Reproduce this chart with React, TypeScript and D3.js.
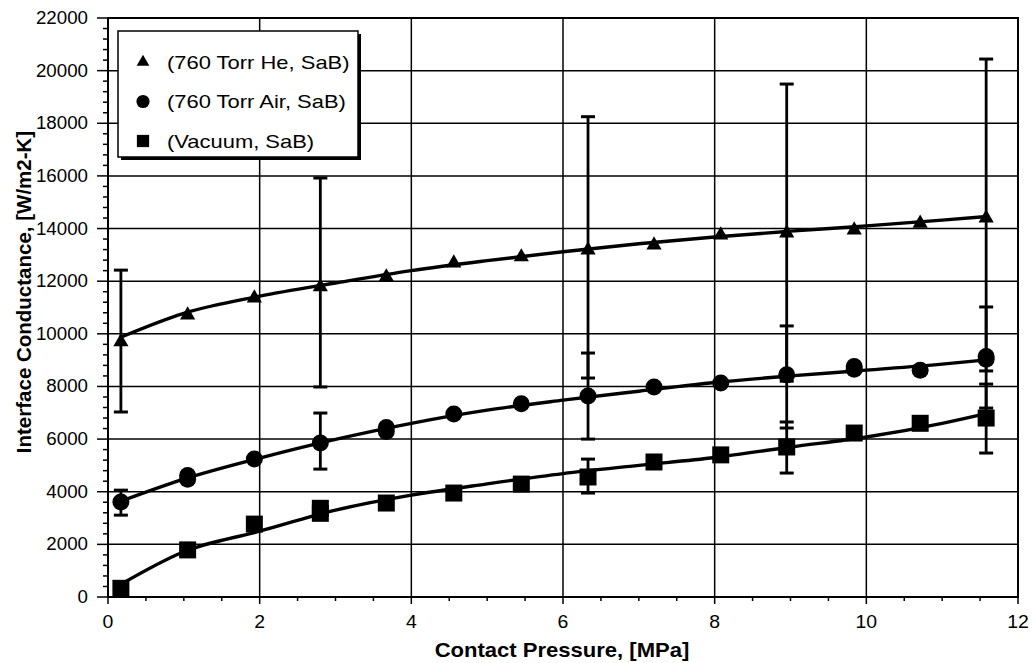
import React from "react";
import * as d3 from "d3";

// Measured points (contact pressure in MPa, conductance in W/m2-K)
const pressure = [0.17, 1.05, 1.93, 2.8, 3.67, 4.56, 5.45, 6.33, 7.2, 8.08, 8.95, 9.84, 10.71, 11.58];
const heliumK = [9690, 10710, 11360, 11780, 12160, 12690, 12920, 13180, 13370, 13750, 13830, 13940, 14200, 14400];
const airK = [3610, 4470, 5240, 5850, 6290, 6950, 7340, 7640, 7980, 8130, 8440, 8650, 8620, 9030];
const vacuumK = [330, 1790, 2770, 3180, 3570, 3950, 4290, 4560, 5130, 5400, 5700, 6230, 6600, 6800];

// Repeated measurements at the same load
const airRepeatP = [1.05, 3.67, 9.84, 11.58];
const airRepeatK = [4620, 6440, 8760, 9140];
const vacuumRepeatP = [2.8];
const vacuumRepeatK = [3370];

// Error bar ranges
const heliumErrP = [0.17, 2.8, 6.33, 8.95, 11.58];
const heliumErrLow = [7030, 7980, 8320, 8200, 8590];
const heliumErrHigh = [12420, 15920, 18250, 19490, 20440];
const airErrP = [0.17, 2.8, 6.33, 8.95, 11.58];
const airErrLow = [3110, 4860, 6000, 6420, 7180];
const airErrHigh = [4060, 6990, 9270, 10300, 11020];
const vacuumErrP = [6.33, 8.95, 11.58];
const vacuumErrLow = [3950, 4710, 5470];
const vacuumErrHigh = [5240, 6650, 8090];

// Trend curves
const fitP = [0.15, 1, 2, 3, 4, 5, 6, 7, 8, 9, 10, 11, 11.55];
const heliumFit = [9850, 10780, 11430, 11930, 12400, 12780, 13120, 13420, 13680, 13900, 14100, 14320, 14450];
const airFit = [3620, 4480, 5280, 5990, 6600, 7100, 7480, 7820, 8150, 8400, 8620, 8850, 9000];
const vacuumFit = [450, 1720, 2500, 3300, 3870, 4300, 4690, 5000, 5300, 5700, 6080, 6600, 6950];

const xTicks = [0, 2, 4, 6, 8, 10, 12];
const yTicks = [0, 2000, 4000, 6000, 8000, 10000, 12000, 14000, 16000, 18000, 20000, 22000];
const legendLabels = ["(760 Torr He, SaB)", "(760 Torr Air, SaB)", "(Vacuum, SaB)"];
const xTitle = "Contact Pressure, [MPa]";
const yTitle = "Interface Conductance, [W/m2-K]";

const FONT = "'Liberation Sans', Arial, sans-serif";

const x = d3.scaleLinear().domain([0, 12]).range([108, 1018]);
const y = d3.scaleLinear().domain([0, 22000]).range([597, 18]);

const triangle = d3.symbol(d3.symbolTriangle, 100)()!;
const circle = d3.symbol(d3.symbolCircle, 227)()!;
const square = d3.symbol(d3.symbolSquare, 289)()!;
const triangleSmall = d3.symbol(d3.symbolTriangle, 70)()!;
const circleSmall = d3.symbol(d3.symbolCircle, 135)()!;
const squareSmall = d3.symbol(d3.symbolSquare, 150)()!;

function Stretch(props: {
  x: number; y: number; sx: number; size: number; anchor?: string; weight?: string; children: string;
}) {
  const { x: px, y: py, sx, size, anchor, weight, children } = props;
  return (
    <text
      transform={`translate(${px},${py}) scale(${sx},1)`}
      fontFamily={FONT}
      fontSize={size}
      fontWeight={weight || "normal"}
      textAnchor={anchor || "start"}
      fill="#000"
    >
      {children}
    </text>
  );
}

function ErrorBars(props: { p: number[]; lo: number[]; hi: number[] }) {
  const { p, lo, hi } = props;
  return (
    <g stroke="#000">
      {p.map((v, i) => (
        <g key={i}>
          <line x1={x(v)} x2={x(v)} y1={y(lo[i])} y2={y(hi[i])} strokeWidth={2.8} />
          <line x1={x(v) - 7} x2={x(v) + 7} y1={y(lo[i])} y2={y(lo[i])} strokeWidth={3} />
          <line x1={x(v) - 7} x2={x(v) + 7} y1={y(hi[i])} y2={y(hi[i])} strokeWidth={3} />
        </g>
      ))}
    </g>
  );
}

export default function App() {
  const fitLine = d3
    .line<number>()
    .x((_, i) => x(fitP[i]))
    .y((d) => y(d))
    .curve(d3.curveMonotoneX);

  const minorY = d3.range(0, 22001, 400);
  const minorX = d3.range(0, 12.01, 0.5);

  const marks = (p: number[], k: number[], path: string, key: string) =>
    p.map((v, i) => (
      <path key={key + i} d={path} transform={`translate(${x(v)},${y(k[i])})`} fill="#000" />
    ));

  return (
    <svg width={1032} height={663} style={{ display: "block", position: "absolute", left: 0, top: 0 }}>
      <rect width={1032} height={663} fill="#fff" />

      {/* grid */}
      <g stroke="#000" strokeWidth={1.5}>
        {yTicks.slice(1, -1).map((t) => (
          <line key={"gy" + t} x1={x(0)} x2={x(12)} y1={y(t)} y2={y(t)} />
        ))}
        {xTicks.slice(1, -1).map((t) => (
          <line key={"gx" + t} x1={x(t)} x2={x(t)} y1={y(0)} y2={y(22000)} />
        ))}
      </g>
      <rect x={x(0)} y={y(22000)} width={x(12) - x(0)} height={y(0) - y(22000)} fill="none" stroke="#000" strokeWidth={2} />

      {/* axis ticks */}
      <g stroke="#000" strokeWidth={1.5}>
        {minorY.map((t) => (
          <line key={"my" + t} x1={x(0) - (t % 2000 === 0 ? 11 : 5)} x2={x(0)} y1={y(t)} y2={y(t)} />
        ))}
        {minorX.map((t) => (
          <line key={"mx" + t} x1={x(t)} x2={x(t)} y1={y(0)} y2={y(0) + (t % 2 === 0 ? 7 : 4)} />
        ))}
      </g>

      {/* tick labels */}
      {yTicks.map((t) => (
        <Stretch key={"ly" + t} x={88} y={y(t) + 6} sx={1.04} size={18} anchor="end">
          {String(t)}
        </Stretch>
      ))}
      {xTicks.map((t) => (
        <Stretch key={"lx" + t} x={x(t)} y={628} sx={1.08} size={18} anchor="middle">
          {String(t)}
        </Stretch>
      ))}

      {/* axis titles */}
      <Stretch x={562} y={657} sx={1.05} size={21} anchor="middle" weight="bold">
        {xTitle}
      </Stretch>
      <text
        transform="translate(31,292) rotate(-90)"
        fontFamily={FONT}
        fontSize={20.5}
        fontWeight="bold"
        textAnchor="middle"
      >
        {yTitle}
      </text>

      {/* error bars */}
      <ErrorBars p={heliumErrP} lo={heliumErrLow} hi={heliumErrHigh} />
      <ErrorBars p={airErrP} lo={airErrLow} hi={airErrHigh} />
      <ErrorBars p={vacuumErrP} lo={vacuumErrLow} hi={vacuumErrHigh} />

      {/* trend curves */}
      <g fill="none" stroke="#000" strokeWidth={3.4}>
        <path d={fitLine(heliumFit) || ""} />
        <path d={fitLine(airFit) || ""} />
        <path d={fitLine(vacuumFit) || ""} />
      </g>

      {/* markers */}
      {marks(pressure, heliumK, triangle, "he")}
      {marks(pressure, airK, circle, "air")}
      {marks(airRepeatP, airRepeatK, circle, "air2")}
      {marks(pressure, vacuumK, square, "vac")}
      {marks(vacuumRepeatP, vacuumRepeatK, square, "vac2")}

      {/* legend */}
      <rect x={121} y={34} width={240} height={126} fill="#000" />
      <rect x={118} y={31} width={240} height={126} fill="#fff" stroke="#000" strokeWidth={1.5} />
      {[triangleSmall, circleSmall, squareSmall].map((s, i) => (
        <path key={"lg" + i} d={s} transform={`translate(143,${62 + i * 39.5})`} fill="#000" />
      ))}
      {legendLabels.map((l, i) => (
        <Stretch key={"lt" + i} x={167} y={68.5 + i * 39.5} sx={1.22} size={18}>
          {l}
        </Stretch>
      ))}
    </svg>
  );
}
